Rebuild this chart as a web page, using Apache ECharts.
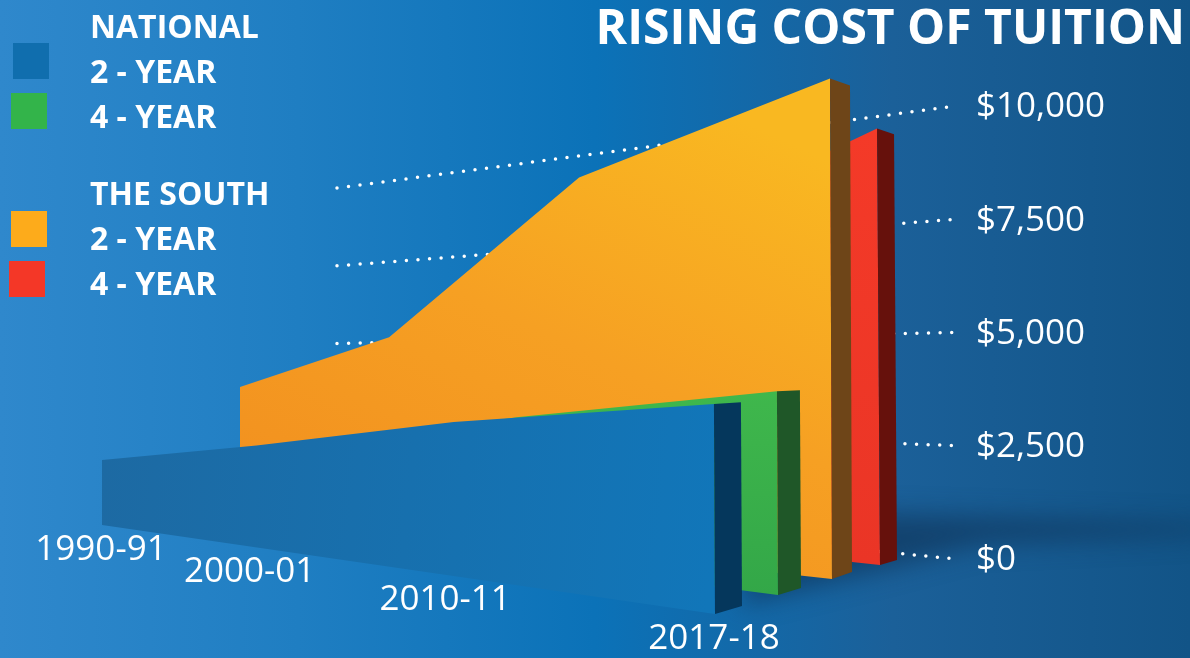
<!DOCTYPE html>
<html>
<head>
<meta charset="utf-8">
<title>Rising cost of tuition</title>
<script src="https://cdn.jsdelivr.net/npm/echarts@6/dist/echarts.min.js"></script>
<style>
html, body { margin: 0; padding: 0; background: #125487; }
#chart { width: 1190px; height: 658px; }
</style>
</head>
<body>
<div id="chart"></div>
<script>
// values, in dollars
var years = ["1990-91", "2000-01", "2010-11", "2017-18"];
var national2 = [1640, 2290, 3040, 3570];
var national4 = [1550, 2150, 2990, 3640];
var south2 = [3750, 5080, 8640, 9970];
var south4 = [3000, 4400, 7200, 9000];
var ticks = [0, 2500, 5000, 7500, 10000];

var font = "'Open Sans', sans-serif";
var grid = { left: 100, right: 220, top: 107.5, bottom: 97.5 };
var W = 1190, H = 658;
var axisMax = 10000;
var depthRatio = 0.675; // near end / far end

// each ribbon is a flat chart seen in perspective
var sceneBlue = { xL: 102, xR: 715, baseL: 525, baseR: 614, hR: 588, tilt: 3, dx: 27, dy0: -8, dy1: 17 };
var sceneGreen = { xL: 170, xR: 778, baseL: 516, baseR: 595, hR: 560, tilt: 3, dx: 23, dy0: -7, dy1: 16.7 };
var sceneOrange = { xL: 240, xR: 832, baseL: 514, baseR: 579, hR: 502, tilt: 2, dx: 20, dy0: -7, dy1: 14 };
var sceneRed = { xL: 330, xR: 880, baseL: 506, baseR: 565, hR: 485, tilt: 3.3, dx: 17, dy0: -5, dy1: 12 };
var sceneLabels = { xL: 101, xR: 714, baseL: 550, baseR: 639, hR: 0, tilt: 0, ratio: 0.64 };

function project(scene, p) {
  var r = scene.ratio || depthRatio;
  var t = (p[0] - grid.left) / (W - grid.left - grid.right);
  var vf = (H - grid.bottom - p[1]) / (H - grid.top - grid.bottom);
  var s = t * r / ((1 - t) + t * r);
  var hL = scene.hR * r;
  var x = scene.xL + (scene.xR - scene.xL) * s - scene.tilt * vf * s;
  var base = scene.baseL + (scene.baseR - scene.baseL) * s;
  var h = hL + (scene.hR - hL) * s;
  return [x, base - h * vf, vf];
}

function ribbon(name, values, scene, front, side) {
  return {
    name: name,
    type: "custom",
    silent: true,
    data: values.map(function(v, i) { return [i, v]; }),
    encode: { x: 0, y: 1 },
    renderItem: function(params, api) {
      if (params.dataIndex !== 0) return null;
      var last = values.length - 1;
      var top = values.map(function(v, i) { return project(scene, api.coord([i, v])); });
      var b0 = project(scene, api.coord([0, 0]));
      var b1 = project(scene, api.coord([last, 0]));
      var pts = top.map(function(p) { return [p[0], p[1]]; });
      pts.push([b1[0], b1[1]], [b0[0], b0[1]]);
      var e = top[last];
      var sidePts = [
        [e[0], e[1]],
        [e[0] + scene.dx, e[1] + scene.dy0 + scene.dy1 * e[2]],
        [b1[0] + scene.dx, b1[1] + scene.dy0],
        [b1[0], b1[1]]
      ];
      return {
        type: "group",
        children: [
          { type: "polygon", shape: { points: pts }, style: { fill: front } },
          { type: "polygon", shape: { points: sidePts }, style: { fill: side } }
        ]
      };
    }
  };
}

function lin(x0, y0, x1, y1, stops) {
  return new echarts.graphic.LinearGradient(x0, y0, x1, y1, stops.map(function(c, i) {
    return { offset: i / (stops.length - 1), color: c };
  }));
}

// dotted lines on the back wall, they fan out from the tick labels
var wallLines = {
  name: "grid",
  type: "custom",
  silent: true,
  data: ticks.map(function(v) { return [years.length - 1, v]; }),
  encode: { x: 0, y: 1 },
  renderItem: function(params, api) {
    var p = api.coord([years.length - 1, api.value(1)]);
    var vf = api.value(1) / axisMax;
    var slope = 0.097 - 0.2295 * vf;
    var x0 = 956, x1 = 337;
    var y0 = p[1] - 1.5;
    return {
      type: "line",
      shape: { x1: x1, y1: y0 + slope * (x1 - x0), x2: x0, y2: y0 },
      style: { stroke: "#fff", lineWidth: 3.5, lineDash: [0, 11.6], lineCap: "round" }
    };
  }
};

// year labels run along the front ribbon's floor edge
var yearLabels = {
  name: "years",
  type: "custom",
  silent: true,
  data: years.map(function(y, i) { return [i, 0]; }),
  encode: { x: 0, y: 1 },
  renderItem: function(params, api) {
    var p = project(sceneLabels, api.coord([api.value(0), 0]));
    return {
      type: "text",
      style: {
        x: p[0],
        y: p[1],
        text: years[params.dataIndex],
        fill: "#fff",
        font: "35px " + font,
        align: "center",
        verticalAlign: "middle"
      }
    };
  }
};

function swatch(x, y, color) {
  return { type: "rect", shape: { x: x, y: y, width: 36, height: 36 }, style: { fill: color } };
}
function legendText(y, text) {
  return {
    type: "text",
    style: { x: 90, y: y, text: text, fill: "#fff", font: "bold 32px " + font, verticalAlign: "middle" }
  };
}

var chart = echarts.init(document.getElementById("chart"), null, { renderer: "canvas" });
chart.setOption({
  animation: false,
  backgroundColor: lin(0, 0, 1, 0, ["#2F88CC", "#1F7EC2", "#0B72B8", "#1B6099", "#125487"]),
  title: {
    text: "RISING COST OF TUITION",
    right: 0,
    top: 1,
    textStyle: { color: "#fff", fontFamily: font, fontWeight: "bold", fontSize: 48 }
  },
  grid: grid,
  xAxis: { type: "category", data: years, boundaryGap: false, show: false },
  yAxis: {
    type: "value",
    position: "right",
    min: 0,
    max: axisMax,
    interval: 2500,
    axisLine: { show: false },
    axisTick: { show: false },
    splitLine: { show: false },
    axisLabel: {
      margin: 6,
      color: "#fff",
      fontFamily: font,
      fontSize: 35,
      formatter: function(v) { return "$" + v.toLocaleString("en-US"); }
    }
  },
  graphic: [
    // floor shadow: the shape sits off the page, only its blurred shadow lands on it
    {
      type: "polygon",
      shape: { points: [[770, -1490], [1210, -1476], [1210, -1466], [980, -1456], [880, -1430], [740, -1395]] },
      style: {
        fill: "#000",
        shadowColor: "rgba(16,56,94,0.7)",
        shadowBlur: 24,
        shadowOffsetY: 2000
      }
    },
    swatch(13, 43, "#106EAE"),
    swatch(11, 93, "#33B44A"),
    swatch(11, 211, "#FDAB1B"),
    swatch(9, 261, "#F43727"),
    legendText(29, "NATIONAL"),
    legendText(74, "2 - YEAR"),
    legendText(119, "4 - YEAR"),
    legendText(196, "THE SOUTH"),
    legendText(241, "2 - YEAR"),
    legendText(286, "4 - YEAR")
  ],
  series: [
    wallLines,
    ribbon("The South 4 - Year", south4, sceneRed, lin(0, 0, 0, 1, ["#F43A28", "#EA3526"]), "#66110C"),
    ribbon("The South 2 - Year", south2, sceneOrange, lin(0.3, 1, 0.7, 0, ["#F2901F", "#F6A023", "#F9B821"]), "#6E4518"),
    ribbon("National 4 - Year", national4, sceneGreen, lin(0, 0, 0, 1, ["#3FB74C", "#33A748"]), "#1F5728"),
    ribbon("National 2 - Year", national2, sceneBlue, lin(0, 0.3, 1, 0.6, ["#1D6AA3", "#1176B9"]), "#05375C"),
    yearLabels
  ]
});
</script>
</body>
</html>
